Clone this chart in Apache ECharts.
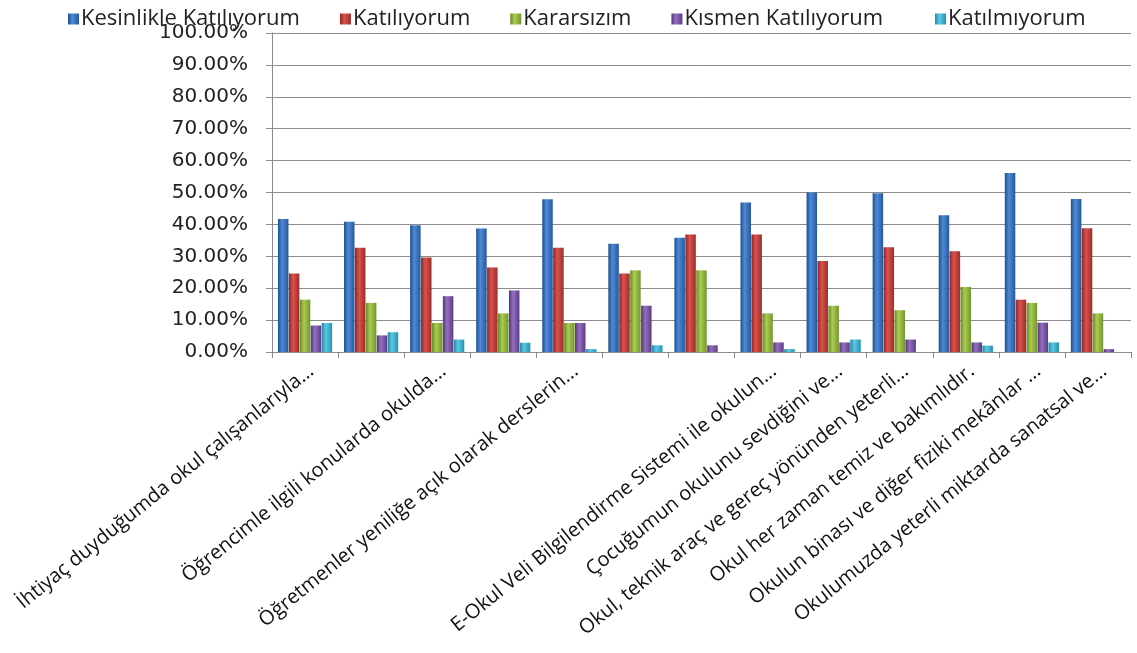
<!DOCTYPE html>
<html>
<head>
<meta charset="utf-8">
<script src="https://cdn.jsdelivr.net/npm/echarts@6/dist/echarts.min.js"></script>
<style>
html,body{margin:0;padding:0;background:#fff;}
#chart{width:1137px;height:653px;}
</style>
</head>
<body>
<div id="chart"></div>
<script>
const categories = [
  "İhtiyaç duyduğumda okul çalışanlarıyla...",
  "",
  "Öğrencimle ilgili konularda okulda...",
  "",
  "Öğretmenler yeniliğe açık olarak derslerin...",
  "",
  "",
  "E-Okul Veli Bilgilendirme Sistemi ile okulun...",
  "Çocuğumun okulunu sevdiğini ve...",
  "Okul, teknik araç ve gereç yönünden yeterli...",
  "Okul her zaman temiz ve bakımlıdır.",
  "Okulun binası ve diğer fiziki mekânlar ...",
  "Okulumuzda yeterli miktarda sanatsal ve..."
];
const seriesNames = ["Kesinlikle Katılıyorum", "Katılıyorum", "Kararsızım", "Kısmen Katılıyorum", "Katılmıyorum"];
const kesinlikleKatiliyorum = [41.7, 40.8, 39.7, 38.7, 47.9, 33.9, 35.8, 46.9, 50.0, 49.8, 42.9, 56.1, 48.0];
const katiliyorum          = [24.6, 32.7, 29.6, 26.5, 32.7, 24.6, 36.8, 36.8, 28.5, 32.8, 31.6, 16.4, 38.8];
const kararsizim           = [16.4, 15.4, 9.1, 12.1, 9.1, 25.6, 25.6, 12.1, 14.5, 13.1, 20.4, 15.4, 12.1];
const kismenKatiliyorum    = [8.3, 5.2, 17.5, 19.3, 9.1, 14.5, 2.1, 3.0, 3.0, 3.9, 3.0, 9.2, 0.9];
const katilmiyorum         = [9.1, 6.2, 3.9, 2.9, 0.9, 2.1, 0, 0.9, 3.9, 0, 2.0, 3.0, 0];
const yTicks = { min: 0, max: 100, interval: 10 };

const palette = [
  ['#1d4f8f', '#4f8ad6', '#24589c'],
  ['#8e2623', '#d9524d', '#9e2d29'],
  ['#6a8a25', '#a9cc55', '#74962a'],
  ['#55357a', '#9370bd', '#5e3b86'],
  ['#1f87a3', '#5cc8e2', '#2493b0']
];
const solid = ['#3a74c0', '#c8403b', '#8fb43f', '#7a54a5', '#37aecd'];
function grad(c) {
  return new echarts.graphic.LinearGradient(0, 0, 1, 0, [
    { offset: 0, color: c[0] }, { offset: 0.4, color: c[1] }, { offset: 1, color: c[2] }
  ]);
}
const allData = [kesinlikleKatiliyorum, katiliyorum, kararsizim, kismenKatiliyorum, katilmiyorum];
const shown = new Set([0, 2, 4, 7, 8, 9, 10, 11, 12]);

const legendBase = {
  top: 3,
  itemWidth: 11, itemHeight: 11, itemGap: 40,
  icon: 'rect',
  textStyle: { fontFamily: 'Open Sans', fontSize: 22, color: '#222', padding: [0, 0, 0, -3] }
};

const chart = echarts.init(document.getElementById('chart'));
chart.setOption({
  animation: false,
  color: solid,
  legend: [
    Object.assign({}, legendBase, { left: 63, data: seriesNames.slice(0, 4) }),
    Object.assign({}, legendBase, { left: 930, data: seriesNames.slice(4) })
  ],
  grid: { left: 272, right: 6, top: 33, bottom: 301, containLabel: false, outerBoundsMode: 'none' },
  xAxis: {
    type: 'category',
    data: categories,
    axisLine: { lineStyle: { color: '#8c8c8c', width: 1 } },
    axisTick: { show: true, length: 6, lineStyle: { color: '#8c8c8c' }, interval: 0 },
    axisLabel: {
      interval: function (i) { return shown.has(i); },
      rotate: 39,
      margin: 9,
      fontFamily: 'Open Sans',
      fontSize: 20,
      color: '#111',
      verticalAlign: 'top'
    }
  },
  yAxis: {
    type: 'value',
    min: yTicks.min, max: yTicks.max, interval: yTicks.interval,
    axisLine: { show: true, lineStyle: { color: '#8c8c8c' } },
    axisTick: { show: true, length: 6, lineStyle: { color: '#8c8c8c' } },
    splitLine: { lineStyle: { color: '#8c8c8c', width: 1 } },
    axisLabel: {
      formatter: function (v) { return v.toFixed(2) + '%'; },
      fontFamily: 'DejaVu Sans', fontSize: 20, color: '#222', margin: 24
    }
  },
  series: allData.map(function (d, k) {
    return {
      name: seriesNames[k],
      type: 'bar',
      data: d,
      barGap: '4%',
      barCategoryGap: '18%',
      itemStyle: { color: grad(palette[k]) }
    };
  })
});
</script>
</body>
</html>
